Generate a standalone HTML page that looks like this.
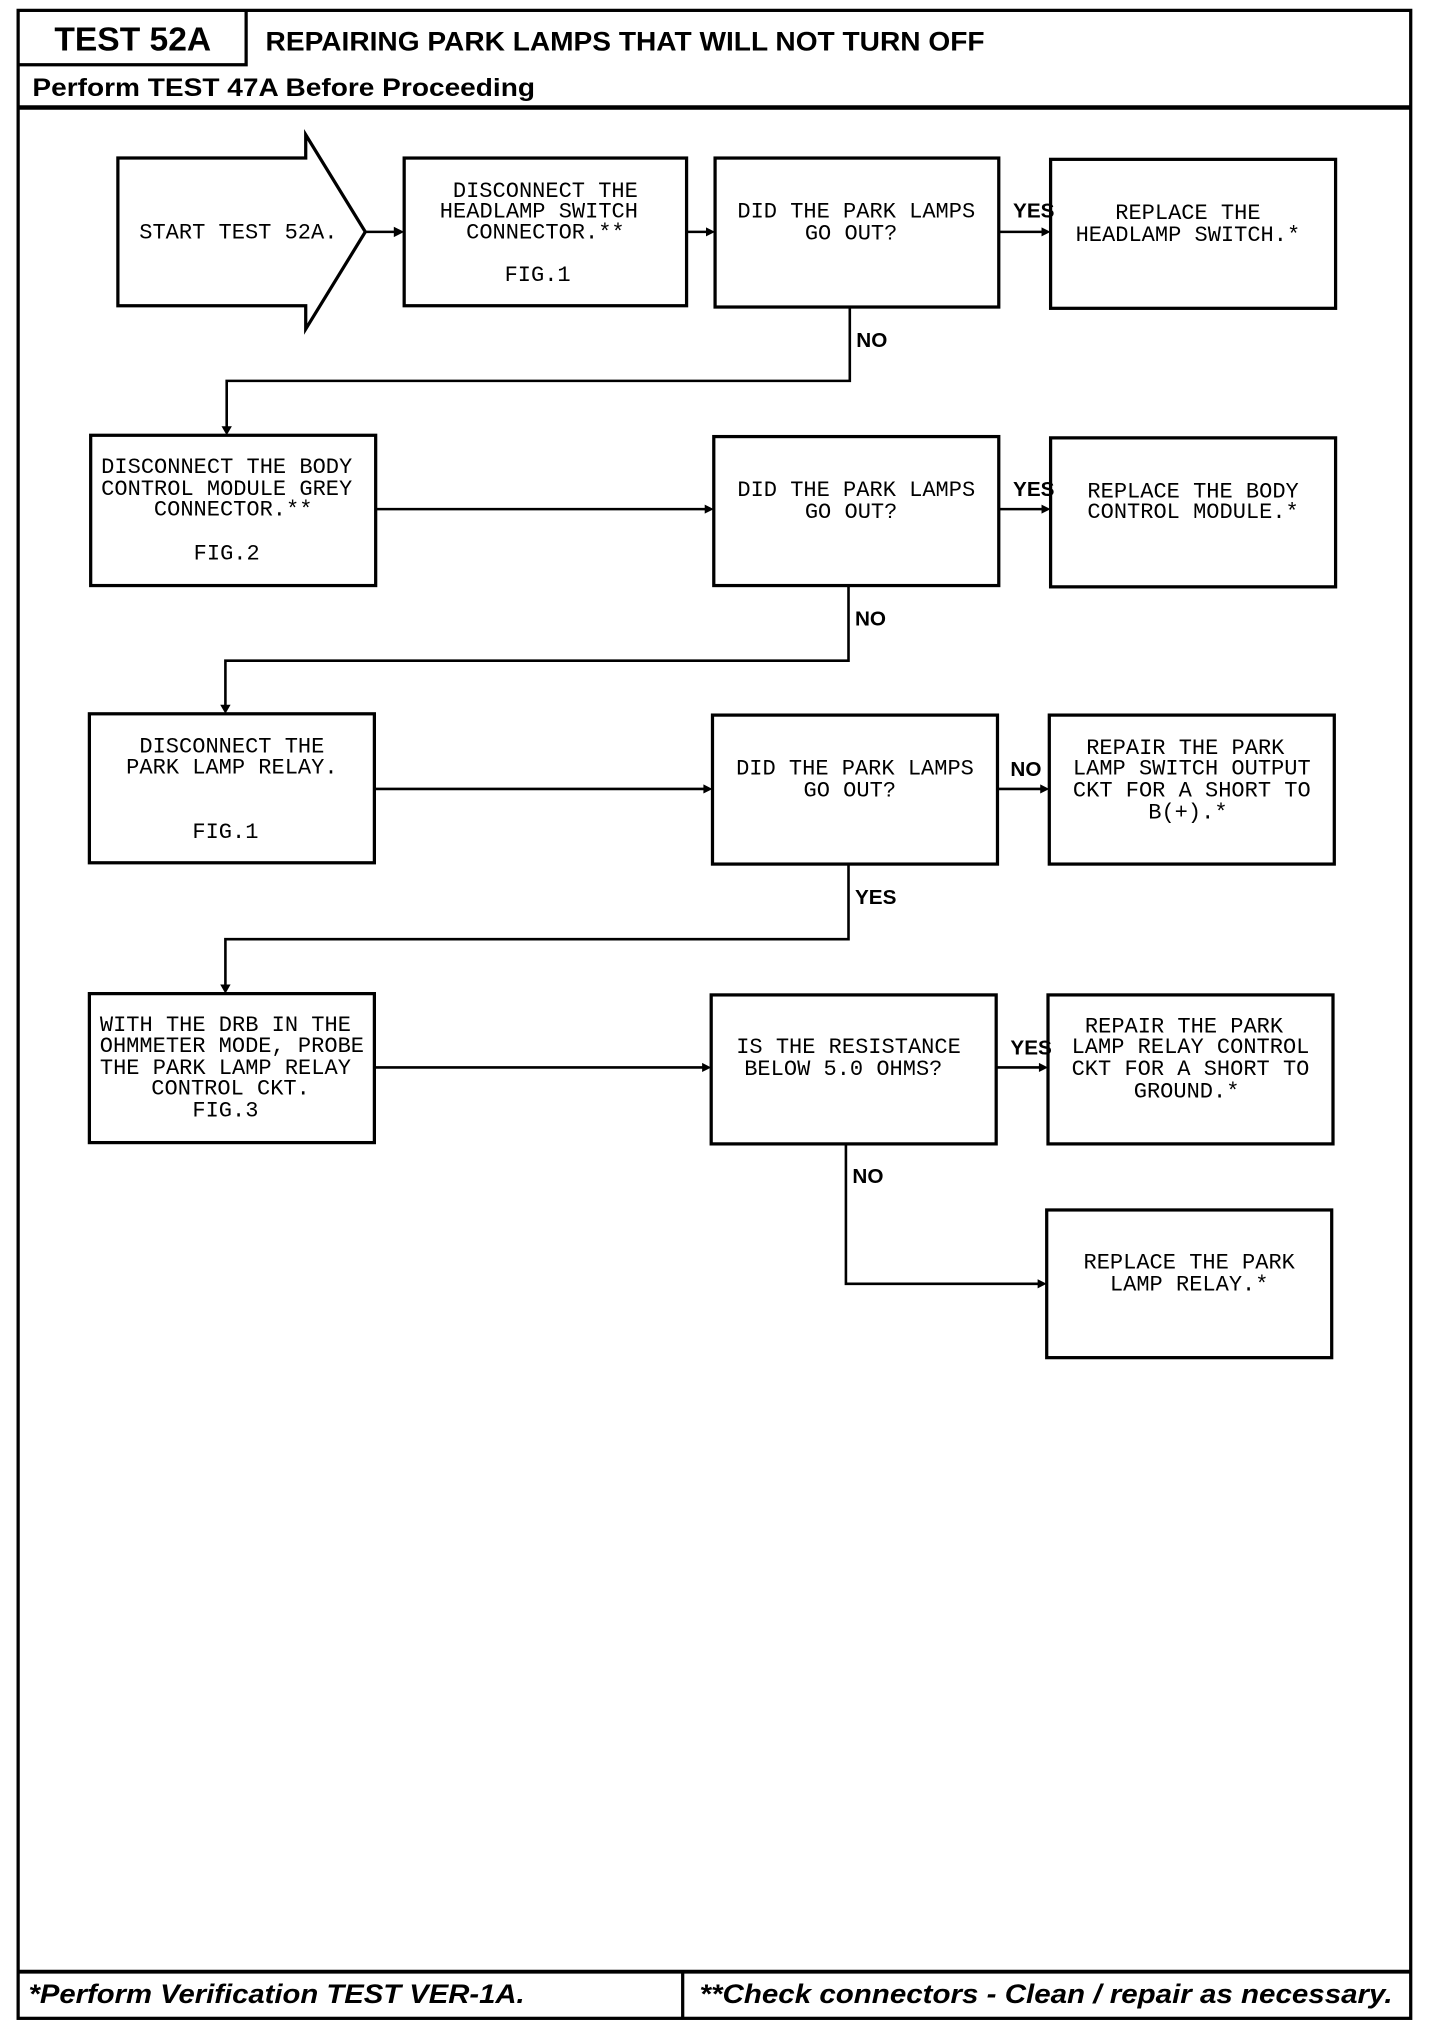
<!DOCTYPE html>
<html><head><meta charset="utf-8"><style>
html,body{margin:0;padding:0;background:#fff;}
svg{display:block;}
.m{font-family:"Liberation Mono",monospace;font-size:17px;fill:#000;text-anchor:middle;}
.h{font-family:"Liberation Sans",sans-serif;font-weight:bold;fill:#000;}
.f{font-family:"Liberation Sans",sans-serif;font-weight:bold;font-style:italic;font-size:21px;fill:#000;}
</style></head><body>
<svg width="1440" height="2030" viewBox="0 0 1111.6 1567" preserveAspectRatio="none" xmlns="http://www.w3.org/2000/svg">
<g fill="none" stroke="#000" stroke-width="2.5">
<rect x="14" y="8" width="1075" height="1550"/>
<polyline points="14,50 190,50 190,8"/>
<line x1="14" y1="83" x2="1089" y2="83" stroke-width="3.5"/>
<line x1="14" y1="1522" x2="1089" y2="1522" stroke-width="3"/>
<line x1="527" y1="1522" x2="527" y2="1558"/>
<polygon points="91,122 236,122 236,104 282,179 236,254 236,236 91,236"/>
<rect x="312" y="122" width="218" height="114"/>
<rect x="552" y="122" width="219" height="115"/>
<rect x="811" y="123" width="220" height="115"/>
<rect x="70" y="336" width="220" height="116"/>
<rect x="551" y="337" width="220" height="115"/>
<rect x="811" y="338" width="220" height="115"/>
<rect x="69" y="551" width="220" height="115"/>
<rect x="550" y="552" width="220" height="115"/>
<rect x="810" y="552" width="220" height="115"/>
<rect x="69" y="767" width="220" height="115"/>
<rect x="549" y="768" width="220" height="115"/>
<rect x="809" y="768" width="220" height="115"/>
<rect x="808" y="934" width="220" height="114"/>
<g stroke-width="2">
<line x1="282" y1="179" x2="306" y2="179"/>
<line x1="530" y1="179" x2="546" y2="179"/>
<line x1="771" y1="179" x2="805" y2="179"/>
<polyline points="656,237 656,294 175,294 175,330"/>
<line x1="290" y1="393" x2="545" y2="393"/>
<line x1="771" y1="393" x2="805" y2="393"/>
<polyline points="655,452 655,510 174,510 174,545"/>
<line x1="289" y1="609" x2="544" y2="609"/>
<line x1="770" y1="609" x2="804" y2="609"/>
<polyline points="655,667 655,725 174,725 174,761"/>
<line x1="289" y1="824" x2="543" y2="824"/>
<line x1="769" y1="824" x2="803" y2="824"/>
<polyline points="653,883 653,991 802,991"/>
</g>
</g>
<g fill="#000">
<polygon points="312,179 304,175 304,183"/>
<polygon points="552,179 545,175.5 545,182.5"/>
<polygon points="811,179 804,175.5 804,182.5"/>
<polygon points="175,336 171,329 179,329"/>
<polygon points="551,393 544,389.5 544,396.5"/>
<polygon points="811,393 804,389.5 804,396.5"/>
<polygon points="174,551 170,544 178,544"/>
<polygon points="550,609 543,605.5 543,612.5"/>
<polygon points="810,609 803,605.5 803,612.5"/>
<polygon points="174,767 170,760 178,760"/>
<polygon points="549,824 542,820.5 542,827.5"/>
<polygon points="809,824 802,820.5 802,827.5"/>
<polygon points="808,991 801,987.5 801,994.5"/>
</g>
<text class="h" x="42" y="39" font-size="26" textLength="121" lengthAdjust="spacingAndGlyphs">TEST 52A</text>
<text class="h" x="205" y="39" font-size="21" textLength="555" lengthAdjust="spacingAndGlyphs">REPAIRING PARK LAMPS THAT WILL NOT TURN OFF</text>
<text class="h" x="25" y="74" font-size="19" textLength="388" lengthAdjust="spacingAndGlyphs">Perform TEST 47A Before Proceeding</text>
<text class="f" x="22" y="1546" textLength="383" lengthAdjust="spacingAndGlyphs">*Perform Verification TEST VER-1A.</text>
<text class="f" x="540" y="1546" textLength="535" lengthAdjust="spacingAndGlyphs">**Check connectors - Clean / repair as necessary.</text>
<g class="m">
<text x="184" y="184">START TEST 52A.</text>
<text x="421" y="152">DISCONNECT THE</text>
<text x="416" y="168">HEADLAMP SWITCH</text>
<text x="421" y="184">CONNECTOR.**</text>
<text x="415" y="217">FIG.1</text>
<text x="661" y="168">DID THE PARK LAMPS</text>
<text x="657" y="185">GO OUT?</text>
<text x="917" y="169">REPLACE THE</text>
<text x="917" y="186">HEADLAMP SWITCH.*</text>
<text x="175" y="365">DISCONNECT THE BODY</text>
<text x="175" y="382">CONTROL MODULE GREY</text>
<text x="180" y="398">CONNECTOR.**</text>
<text x="175" y="432">FIG.2</text>
<text x="661" y="383">DID THE PARK LAMPS</text>
<text x="657" y="400">GO OUT?</text>
<text x="921" y="384">REPLACE THE BODY</text>
<text x="921" y="400">CONTROL MODULE.*</text>
<text x="179" y="581">DISCONNECT THE</text>
<text x="179" y="597">PARK LAMP RELAY.</text>
<text x="174" y="647">FIG.1</text>
<text x="660" y="598">DID THE PARK LAMPS</text>
<text x="656" y="615">GO OUT?</text>
<text x="915" y="582">REPAIR THE PARK</text>
<text x="920" y="598">LAMP SWITCH OUTPUT</text>
<text x="920" y="615">CKT FOR A SHORT TO</text>
<text x="917" y="632">B(+).*</text>
<text x="174" y="796">WITH THE DRB IN THE</text>
<text x="179" y="812">OHMMETER MODE, PROBE</text>
<text x="174" y="829">THE PARK LAMP RELAY</text>
<text x="178" y="845">CONTROL CKT.</text>
<text x="174" y="862">FIG.3</text>
<text x="655" y="813">IS THE RESISTANCE</text>
<text x="651" y="830">BELOW 5.0 OHMS?</text>
<text x="914" y="797">REPAIR THE PARK</text>
<text x="919" y="813">LAMP RELAY CONTROL</text>
<text x="919" y="830">CKT FOR A SHORT TO</text>
<text x="916" y="847">GROUND.*</text>
<text x="918" y="979">REPLACE THE PARK</text>
<text x="918" y="996">LAMP RELAY.*</text>
</g>
<g class="h" font-size="16" font-weight="normal">
<text x="782" y="168">YES</text>
<text x="661" y="268">NO</text>
<text x="782" y="383">YES</text>
<text x="660" y="483">NO</text>
<text x="780" y="599">NO</text>
<text x="660" y="698">YES</text>
<text x="780" y="814">YES</text>
<text x="658" y="913">NO</text>
</g>
</svg>
</body></html>
